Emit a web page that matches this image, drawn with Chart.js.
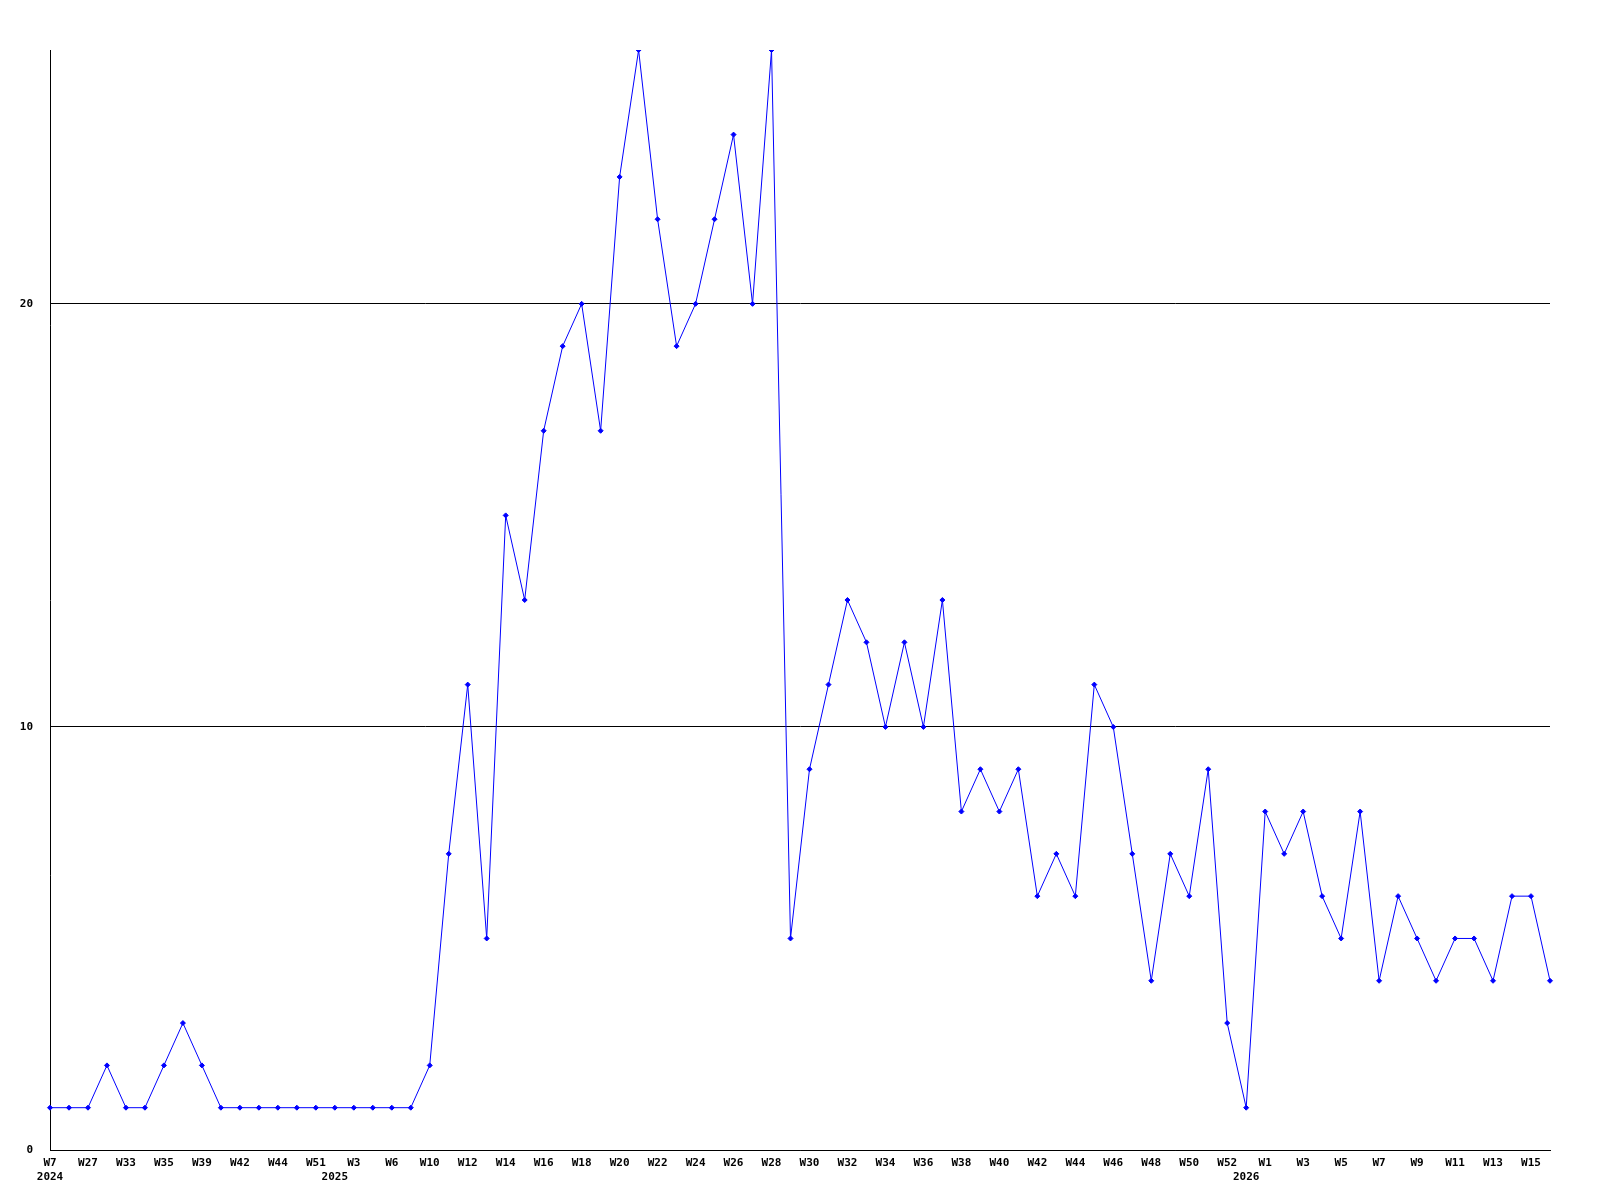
<!DOCTYPE html>
<html>
<head>
<meta charset="utf-8">
<script src="https://cdn.jsdelivr.net/npm/chart.js@4/dist/chart.umd.min.js"></script>
<style>
  html, body { margin: 0; padding: 0; background: #fff; }
  canvas { display: block; }
</style>
</head>
<body>
<canvas id="line-chart" width="1600" height="1200"></canvas>
<script>
// week labels (only every other one is printed on the axis)
var weeks = [
  'W7', 'W26', 'W27', 'W32', 'W33', 'W34', 'W35', 'W37', 'W39', 'W41',
  'W42', 'W43', 'W44', 'W48', 'W51', 'W1', 'W3', 'W5', 'W6', 'W8',
  'W10', 'W11', 'W12', 'W13', 'W14', 'W15', 'W16', 'W17', 'W18', 'W19',
  'W20', 'W21', 'W22', 'W23', 'W24', 'W25', 'W26', 'W27', 'W28', 'W29',
  'W30', 'W31', 'W32', 'W33', 'W34', 'W35', 'W36', 'W37', 'W38', 'W39',
  'W40', 'W41', 'W42', 'W43', 'W44', 'W45', 'W46', 'W47', 'W48', 'W49',
  'W50', 'W51', 'W52', 'W0', 'W1', 'W2', 'W3', 'W4', 'W5', 'W6',
  'W7', 'W8', 'W9', 'W10', 'W11', 'W12', 'W13', 'W14', 'W15', 'W16'
]

// where a new year starts
var yearIndex = [0, 15, 63]
var yearText = ['2024', '2025', '2026']

var valores = [
  1, 1, 1, 2, 1, 1, 2, 3, 2, 1,
  1, 1, 1, 1, 1, 1, 1, 1, 1, 1,
  2, 7, 11, 5, 15, 13, 17, 19, 20, 17,
  23, 26, 22, 19, 20, 22, 24, 20, 26, 5,
  9, 11, 13, 12, 10, 12, 10, 13, 8, 9,
  8, 9, 6, 7, 6, 11, 10, 7, 4, 7,
  6, 9, 3, 1, 8, 7, 8, 6, 5, 8,
  4, 6, 5, 4, 5, 5, 4, 6, 6, 4
]

var yMax = 26
var yStep = 10

var fuente = { family: "'DejaVu Sans Mono', monospace", size: 11, weight: 'bold' }

var ctx = document.getElementById('line-chart').getContext('2d')
var chart = new Chart(ctx, {
  type: 'line',
  data: {
    labels: weeks,
    datasets: [{
      data: valores,
      borderColor: '#0000ff',
      backgroundColor: '#0000ff',
      borderWidth: 1,
      tension: 0,
      fill: false,
      pointStyle: 'rectRot',
      pointRadius: 2.5,
      pointBorderWidth: 1,
      pointBorderColor: '#0000ff',
      pointBackgroundColor: '#0000ff'
    }]
  },
  options: {
    responsive: false,
    animation: false,
    layout: { padding: { top: 50, right: 50, left: 0, bottom: 0 } },
    plugins: {
      legend: { display: false },
      tooltip: { enabled: false }
    },
    scales: {
      x: {
        grid: { display: false, drawTicks: false },
        border: { display: true, color: '#000', width: 1 },
        ticks: {
          autoSkip: false,
          maxRotation: 0,
          minRotation: 0,
          padding: 7,
          color: '#000',
          font: fuente,
          callback: function (val, i) {
            var w = i % 2 === 0 ? weeks[i] : ''
            var k = yearIndex.indexOf(i)
            if (k >= 0) return [w, yearText[k]]
            return w
          }
        },
        afterFit: function (s) { s.height = 50 }
      },
      y: {
        min: 0,
        max: yMax,
        grid: { color: '#000', lineWidth: 1, drawTicks: false },
        border: { display: true, color: '#000', width: 1 },
        ticks: {
          stepSize: yStep,
          includeBounds: false,
          padding: 17,
          color: '#000',
          font: fuente
        },
        afterFit: function (s) { s.width = 50 }
      }
    }
  }
})
</script>
</body>
</html>
